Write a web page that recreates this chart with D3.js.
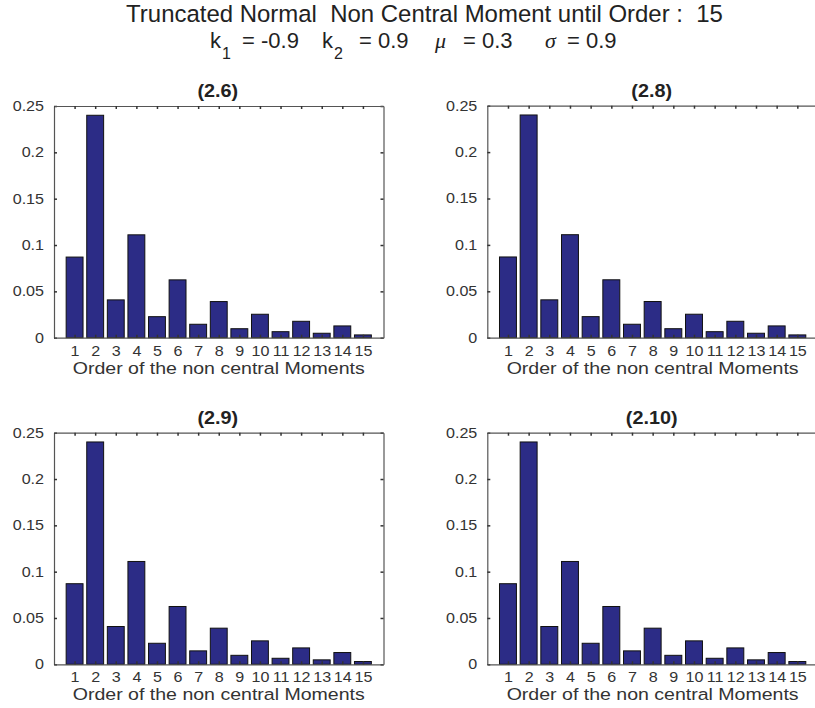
<!DOCTYPE html>
<html>
<head>
<meta charset="utf-8">
<script src="https://cdn.jsdelivr.net/npm/d3@7/dist/d3.min.js"></script>
<style>
  html, body { margin: 0; padding: 0; background: #fff; }
  svg { display: block; font-family: "Liberation Sans", Arial, sans-serif; }
  text { white-space: pre; }
</style>
</head>
<body>
<svg id="chart" width="815" height="708"></svg>
<script>
// ---- data ----
const orders = [1,2,3,4,5,6,7,8,9,10,11,12,13,14,15];
const moments26  = [0.087,0.240,0.0408,0.111,0.0227,0.0624,0.0145,0.039,0.0097,0.0253,0.0065,0.0177,0.0048,0.0127,0.003];
const moments28  = [0.087,0.240,0.0408,0.111,0.0227,0.0624,0.0145,0.039,0.0097,0.0253,0.0065,0.0177,0.0048,0.0127,0.003];
const moments29  = [0.087,0.240,0.0408,0.111,0.0227,0.0624,0.0145,0.039,0.0097,0.0253,0.0065,0.0177,0.0048,0.0127,0.003];
const moments210 = [0.087,0.240,0.0408,0.111,0.0227,0.0624,0.0145,0.039,0.0097,0.0253,0.0065,0.0177,0.0048,0.0127,0.003];
const panelTitles = ["(2.6)","(2.8)","(2.9)","(2.10)"];
const yTicks = [0,0.05,0.1,0.15,0.2,0.25];
const yTickLabels = ["0","0.05","0.1","0.15","0.2","0.25"];
const xLabel = "Order of the non central Moments";
const title1 = "Truncated Normal  Non Central Moment until Order :  15";

const svg = d3.select("#chart");
const barColor = "#2c2c86";
const axisColor = "#555";
const textColor = "#333";
const SX = 1.15; // horizontal stretch of the reference lettering

// ---- figure title ----
svg.append("text").attr("transform", "translate(424.5,22) scale(1.02,1)").attr("text-anchor", "middle")
  .attr("font-size", 23.5).attr("fill", "#222").text(title1);

const line2 = svg.append("g").attr("font-size", 22).attr("fill", "#222");
function piece(x, txt, opts = {}) {
  const t = line2.append("text").attr("x", x).attr("y", opts.y || 48).text(txt);
  if (opts.size) t.attr("font-size", opts.size);
  if (opts.italic) t.attr("font-style", "italic").attr("font-family", "'Liberation Serif', 'DejaVu Serif', serif");
  return t;
}
piece(210, "k");
piece(222, "1", {y: 58.5, size: 16});
piece(242, "= -0.9");
piece(322, "k");
piece(334, "2", {y: 58.5, size: 16});
piece(359, "= 0.9");
piece(435, "\u03bc", {italic: true});
piece(463, "= 0.3");
piece(545, "\u03c3", {italic: true});
piece(567, "= 0.9");

// ---- panels ----
const panels = [
  {data: moments26,  left: 54,    right: 383.5, top: 106,   bottom: 337.7},
  {data: moments28,  left: 487.3, right: 818,   top: 105.7, bottom: 337.7},
  {data: moments29,  left: 54,    right: 383.5, top: 432.7, bottom: 664.3},
  {data: moments210, left: 487.3, right: 818,   top: 432.7, bottom: 664.3}
];

panels.forEach((p, i) => {
  const g = svg.append("g");
  const x = d3.scaleLinear().domain([0, 16]).range([p.left, p.right]);
  const y = d3.scaleLinear().domain([0, 0.25]).range([p.bottom, p.top]);
  const step = x(1) - x(0);
  const bw = step * 0.82;

  // bars
  g.selectAll("rect.bar").data(p.data).enter().append("rect")
    .attr("class", "bar")
    .attr("x", (d, j) => x(orders[j]) - bw / 2)
    .attr("y", d => y(d))
    .attr("width", bw)
    .attr("height", d => p.bottom - y(d))
    .attr("fill", barColor)
    .attr("stroke", "#111")
    .attr("stroke-width", 1);

  // axes (ticks inside, box)
  const axL = d3.axisLeft(y).tickValues(yTicks).tickFormat((d, k) => yTickLabels[k]).tickSizeInner(-3).tickSizeOuter(0).tickPadding(10);
  const axR = d3.axisRight(y).tickValues(yTicks).tickFormat("").tickSizeInner(-3).tickSizeOuter(0);
  const axB = d3.axisBottom(x).tickValues(orders).tickFormat(d => d).tickSizeInner(-3).tickSizeOuter(0).tickPadding(8);
  const axT = d3.axisTop(x).tickValues(orders).tickFormat("").tickSizeInner(-3).tickSizeOuter(0);

  const styleAx = sel => {
    sel.selectAll("path").attr("stroke", axisColor).attr("stroke-width", 1.2);
    sel.selectAll("line").attr("stroke", "#333").attr("stroke-width", 1.5);
    sel.selectAll("text").attr("fill", textColor).attr("font-size", 14).attr("font-family", "'Liberation Sans', Arial, sans-serif");
  };
  const gl = g.append("g").attr("transform", `translate(${p.left},0)`).call(axL).call(styleAx);
  gl.selectAll(".tick text").each(function() {
    const t = d3.select(this);
    const xx = +t.attr("x");
    t.attr("x", xx / SX).attr("transform", `scale(${SX},1)`);
  });
  g.append("g").attr("transform", `translate(${p.right},0)`).call(axR).call(styleAx);
  const gb = g.append("g").attr("transform", `translate(0,${p.bottom})`).call(axB).call(styleAx);
  gb.selectAll(".tick text").attr("transform", `scale(${SX},1)`);
  g.append("g").attr("transform", `translate(0,${p.top})`).call(axT).call(styleAx);

  // panel title
  g.append("text").attr("transform", `translate(${(p.left + p.right) / 2 - 1},${p.top - 9}) scale(1.1,1)`)
    .attr("text-anchor", "middle").attr("font-size", 18).attr("font-weight", "bold")
    .attr("fill", "#222").text(panelTitles[i]);

  // x label
  g.append("text").attr("transform", `translate(${(x(1) + x(15)) / 2},${p.bottom + 36}) scale(${SX},1)`)
    .attr("text-anchor", "middle").attr("font-size", 17).attr("fill", textColor).text(xLabel);
});
</script>
</body>
</html>
